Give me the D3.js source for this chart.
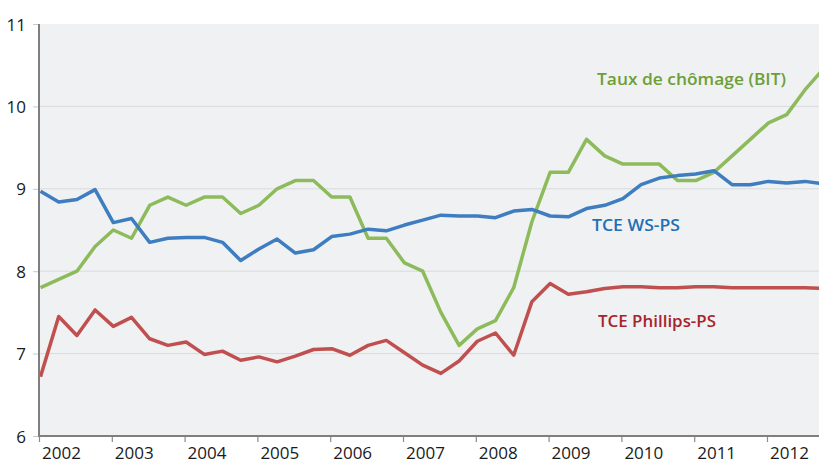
<!DOCTYPE html>
<html>
<head>
<meta charset="utf-8">
<script src="https://cdn.jsdelivr.net/npm/d3@7"></script>
<style>
  body { margin: 0; background: #fff; }
  svg { display: block; font-family: "Open Sans", sans-serif; }
</style>
</head>
<body>
<script>
// quarterly data, 2002Q1 .. 2012Q4
var years = [2002, 2003, 2004, 2005, 2006, 2007, 2008, 2009, 2010, 2011, 2012];
var yTicks = [6, 7, 8, 9, 10, 11];

var chomage = [7.8, 7.9, 8.0, 8.3, 8.5, 8.4, 8.8, 8.9, 8.8, 8.9, 8.9, 8.7, 8.8, 9.0,
  9.1, 9.1, 8.9, 8.9, 8.4, 8.4, 8.1, 8.0, 7.5, 7.1, 7.3, 7.4, 7.8, 8.6,
  9.2, 9.2, 9.6, 9.4, 9.3, 9.3, 9.3, 9.1, 9.1, 9.2, 9.4, 9.6, 9.8, 9.9, 10.2, 10.45];
var wsps = [8.97, 8.84, 8.87, 8.99, 8.59, 8.64, 8.35, 8.40, 8.41, 8.41, 8.35, 8.13, 8.27, 8.39,
  8.22, 8.26, 8.42, 8.45, 8.51, 8.49, 8.56, 8.62, 8.68, 8.67, 8.67, 8.65, 8.73, 8.75,
  8.67, 8.66, 8.76, 8.80, 8.88, 9.05, 9.13, 9.16, 9.18, 9.22, 9.05, 9.05, 9.09, 9.07, 9.09, 9.06];
var phillips = [6.72, 7.45, 7.22, 7.53, 7.33, 7.44, 7.18, 7.10, 7.14, 6.99, 7.03, 6.92, 6.96, 6.90,
  6.97, 7.05, 7.06, 6.98, 7.10, 7.16, 7.01, 6.86, 6.76, 6.91, 7.15, 7.25, 6.98, 7.63,
  7.85, 7.72, 7.75, 7.79, 7.81, 7.81, 7.80, 7.80, 7.81, 7.81, 7.80, 7.80, 7.80, 7.80, 7.80, 7.79];

var width = 819, height = 463;
var margin = {top: 24, right: 0, bottom: 27, left: 39};

var svg = d3.select("body").append("svg")
  .attr("width", width)
  .attr("height", height);

var x = d3.scaleLinear()
  .domain([2002, 2013])
  .range([margin.left, margin.left + 72.8 * 11]);

var y = d3.scaleLinear()
  .domain([6, 11])
  .range([height - margin.bottom, margin.top]);

// plot background
svg.append("rect")
  .attr("x", margin.left)
  .attr("y", margin.top)
  .attr("width", width - margin.left)
  .attr("height", y(6) - margin.top)
  .attr("fill", "#f0f1f3");

// gridlines
svg.append("g")
  .selectAll("line")
  .data(yTicks.slice(1, -1))
  .enter().append("line")
    .attr("x1", margin.left).attr("x2", width)
    .attr("y1", function(d) { return y(d); })
    .attr("y2", function(d) { return y(d); })
    .attr("stroke", "#d9dadc")
    .attr("stroke-width", 1);

svg.append("clipPath").attr("id", "clip")
  .append("rect")
  .attr("x", margin.left).attr("y", margin.top)
  .attr("width", width - margin.left).attr("height", y(6) - margin.top);

var line = d3.line()
  .x(function(d, i) { return x(2002 + i / 4) + 1.5; })
  .y(function(d) { return y(d); });

var series = [
  {values: chomage, color: "#8dbb5b"},
  {values: wsps, color: "#3e7dbf"},
  {values: phillips, color: "#c0504f"}
];

svg.append("g").attr("clip-path", "url(#clip)")
  .selectAll("path")
  .data(series)
  .enter().append("path")
    .attr("d", function(d) { return line(d.values); })
    .attr("fill", "none")
    .attr("stroke", function(d) { return d.color; })
    .attr("stroke-width", 3.5)
    .attr("stroke-linejoin", "round");

// x axis: ticks at year starts, labels left-aligned after each tick
var x_axis = d3.axisBottom(x)
  .tickValues(d3.range(2002, 2013))
  .tickSize(6)
  .tickFormat("");

var gx = svg.append("g")
  .attr("transform", "translate(0," + y(6) + ")")
  .call(x_axis);
gx.select(".domain").remove();
gx.selectAll("line").attr("stroke", "#8a8a8a").attr("stroke-width", 1.2);

svg.append("g")
  .selectAll("text")
  .data(years)
  .enter().append("text")
    .attr("x", function(d) { return x(d) + 3; })
    .attr("y", 459)
    .attr("text-anchor", "start")
    .attr("font-size", 17)
    .attr("fill", "#1a1a1a")
    .text(function(d) { return d; });

// y axis
var y_axis = d3.axisLeft(y)
  .tickValues(yTicks)
  .tickSize(6)
  .tickPadding(7)
  .tickFormat(d3.format("d"));

var gy = svg.append("g")
  .attr("transform", "translate(" + margin.left + ",0)")
  .call(y_axis);
gy.select(".domain").remove();
gy.selectAll("line").attr("stroke", "#c8c9cb");
gy.selectAll("text")
  .attr("font-size", 17)
  .attr("font-family", "Open Sans, sans-serif")
  .attr("fill", "#1a1a1a")
  .attr("dy", "0.36em");

// axis lines
svg.append("line")
  .attr("x1", margin.left).attr("x2", margin.left)
  .attr("y1", margin.top).attr("y2", y(6))
  .attr("stroke", "#7f7f7f").attr("stroke-width", 2);
svg.append("line")
  .attr("x1", margin.left - 1).attr("x2", width)
  .attr("y1", y(6)).attr("y2", y(6))
  .attr("stroke", "#7f7f7f").attr("stroke-width", 2);

// series labels
var labels = [
  {text: "Taux de chômage (BIT)", x: 597, y: 85, w: 189, color: "#6d9f35"},
  {text: "TCE WS-PS", x: 592, y: 231, w: 88, color: "#2170b4"},
  {text: "TCE Phillips-PS", x: 598, y: 327, w: 118, color: "#a6252c"}
];

svg.append("g")
  .selectAll("text")
  .data(labels)
  .enter().append("text")
    .attr("x", function(d) { return d.x; })
    .attr("y", function(d) { return d.y; })
    .attr("font-size", 17)
    .attr("font-weight", 600)
    .attr("fill", function(d) { return d.color; })
    .attr("textLength", function(d) { return d.w; })
    .attr("lengthAdjust", "spacingAndGlyphs")
    .text(function(d) { return d.text; });
</script>
</body>
</html>
